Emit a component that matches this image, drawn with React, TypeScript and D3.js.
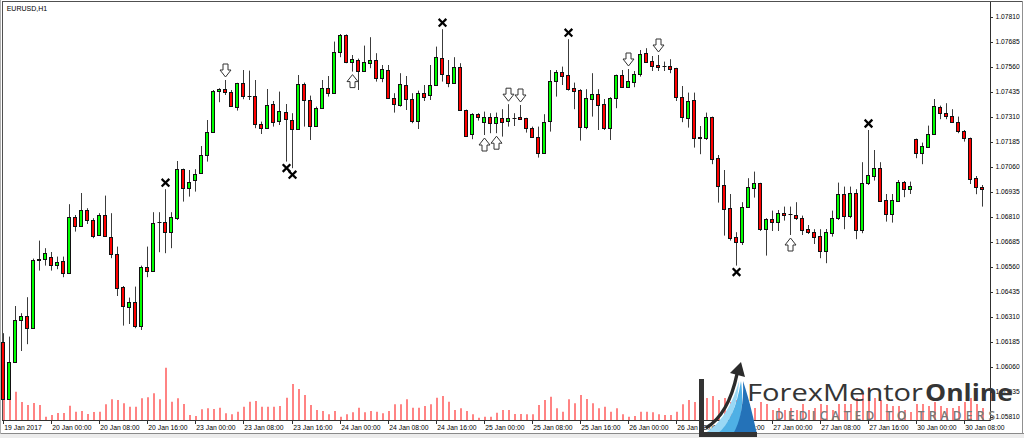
import React from 'react';
import * as d3 from 'd3';

const OPEN = [1.06187,1.05899,1.06087,1.06295,1.06315,1.06254,1.06594,1.06599,1.06612,1.06572,1.06589,1.06529,1.06809,1.06765,1.06844,1.06795,1.06719,1.06820,1.06712,1.06625,1.06459,1.06362,1.06384,1.06267,1.06562,1.06542,1.06785,1.06785,1.06737,1.06804,1.07049,1.06957,1.06995,1.07029,1.07119,1.07234,1.07440,1.07450,1.07434,1.07362,1.07482,1.07417,1.07417,1.07274,1.07254,1.07374,1.07290,1.07334,1.07295,1.07250,1.07474,1.07395,1.07265,1.07357,1.07454,1.07432,1.07637,1.07720,1.07584,1.07595,1.07540,1.07582,1.07595,1.07507,1.07545,1.07404,1.07370,1.07470,1.07399,1.07292,1.07429,1.07420,1.07470,1.07604,1.07520,1.07482,1.07562,1.07345,1.07224,1.07325,1.07284,1.07309,1.07282,1.07304,1.07292,1.07307,1.07312,1.07304,1.07257,1.07209,1.07129,1.07292,1.07492,1.07537,1.07520,1.07454,1.07445,1.07259,1.07400,1.07424,1.07374,1.07254,1.07404,1.07520,1.07459,1.07487,1.07524,1.07629,1.07590,1.07570,1.07567,1.07567,1.07554,1.07412,1.07304,1.07395,1.07212,1.07204,1.07309,1.07104,1.06970,1.06857,1.06709,1.06687,1.06862,1.06954,1.06979,1.06749,1.06799,1.06787,1.06829,1.06825,1.06820,1.06804,1.06749,1.06737,1.06715,1.06642,1.06732,1.06804,1.06924,1.06815,1.06932,1.06745,1.06979,1.07017,1.07057,1.06895,1.06824,1.06892,1.06987,1.06949,1.07200,1.07129,1.07162,1.07224,1.07362,1.07329,1.07315,1.07287,1.07240,1.07204,1.07004,1.06962];
const HIGH = [1.06229,1.06212,1.06365,1.06329,1.06409,1.06602,1.06692,1.06654,1.06635,1.06612,1.06612,1.06874,1.06820,1.06930,1.06854,1.06804,1.06829,1.06917,1.06829,1.06662,1.06465,1.06407,1.06462,1.06567,1.06662,1.06834,1.06834,1.06949,1.06834,1.07090,1.07052,1.07045,1.07049,1.07165,1.07295,1.07445,1.07454,1.07495,1.07445,1.07481,1.07545,1.07542,1.07495,1.07287,1.07450,1.07390,1.07437,1.07375,1.07329,1.07520,1.07482,1.07417,1.07362,1.07495,1.07515,1.07687,1.07725,1.07723,1.07620,1.07602,1.07667,1.07709,1.07629,1.07570,1.07570,1.07429,1.07529,1.07515,1.07429,1.07442,1.07470,1.07570,1.07662,1.07749,1.07595,1.07609,1.07579,1.07347,1.07329,1.07329,1.07337,1.07329,1.07332,1.07349,1.07374,1.07329,1.07370,1.07306,1.07262,1.07262,1.07324,1.07545,1.07545,1.07562,1.07699,1.07482,1.07449,1.07449,1.07529,1.07449,1.07400,1.07409,1.07522,1.07545,1.07550,1.07540,1.07645,1.07654,1.07615,1.07620,1.07587,1.07599,1.07556,1.07465,1.07432,1.07432,1.07265,1.07332,1.07312,1.07120,1.07045,1.06925,1.06734,1.06884,1.07004,1.07037,1.06981,1.06804,1.06842,1.06845,1.06862,1.06862,1.06884,1.06817,1.06770,1.06749,1.06749,1.06750,1.06842,1.06982,1.06962,1.06962,1.06949,1.07084,1.07245,1.07145,1.07084,1.06925,1.06925,1.06995,1.06990,1.06987,1.07202,1.07182,1.07267,1.07400,1.07367,1.07379,1.07349,1.07312,1.07245,1.07207,1.07015,1.06970];
const LOW = [1.05895,1.05895,1.06085,1.06140,1.06174,1.06250,1.06542,1.06567,1.06542,1.06549,1.06509,1.06525,1.06737,1.06762,1.06775,1.06704,1.06716,1.06713,1.06604,1.06415,1.06267,1.06275,1.06254,1.06245,1.06509,1.06540,1.06634,1.06629,1.06654,1.06795,1.06887,1.06912,1.06937,1.07026,1.07087,1.07230,1.07384,1.07420,1.07362,1.07342,1.07399,1.07395,1.07254,1.07225,1.07252,1.07262,1.07270,1.07087,1.07054,1.07248,1.07262,1.07195,1.07262,1.07354,1.07412,1.07429,1.07609,1.07579,1.07537,1.07445,1.07537,1.07554,1.07487,1.07484,1.07404,1.07332,1.07362,1.07345,1.07279,1.07250,1.07390,1.07395,1.07468,1.07487,1.07459,1.07479,1.07343,1.07212,1.07199,1.07292,1.07220,1.07229,1.07229,1.07212,1.07262,1.07265,1.07295,1.07232,1.07206,1.07107,1.07125,1.07237,1.07412,1.07470,1.07442,1.07349,1.07192,1.07249,1.07312,1.07245,1.07245,1.07195,1.07354,1.07459,1.07456,1.07459,1.07512,1.07582,1.07540,1.07540,1.07540,1.07529,1.07390,1.07284,1.07257,1.07157,1.07124,1.07195,1.07074,1.06882,1.06717,1.06692,1.06567,1.06670,1.06860,1.06907,1.06740,1.06617,1.06740,1.06740,1.06792,1.06720,1.06795,1.06720,1.06725,1.06675,1.06604,1.06579,1.06712,1.06795,1.06749,1.06804,1.06699,1.06729,1.06970,1.06992,1.06887,1.06787,1.06782,1.06890,1.06909,1.06925,1.07104,1.07074,1.07160,1.07222,1.07299,1.07299,1.07284,1.07229,1.07187,1.06975,1.06924,1.06862];
const CLOSE = [1.05899,1.06087,1.06295,1.06315,1.06257,1.06594,1.06599,1.06629,1.06569,1.06585,1.06529,1.06809,1.06765,1.06844,1.06795,1.06715,1.06822,1.06715,1.06625,1.06457,1.06367,1.06384,1.06267,1.06562,1.06542,1.06782,1.06785,1.06737,1.06809,1.07049,1.06957,1.06984,1.07025,1.07119,1.07234,1.07440,1.07450,1.07437,1.07367,1.07479,1.07417,1.07417,1.07274,1.07254,1.07370,1.07287,1.07342,1.07299,1.07250,1.07474,1.07395,1.07265,1.07357,1.07454,1.07429,1.07634,1.07720,1.07584,1.07599,1.07540,1.07584,1.07595,1.07507,1.07549,1.07407,1.07374,1.07474,1.07399,1.07292,1.07429,1.07412,1.07470,1.07612,1.07524,1.07482,1.07562,1.07345,1.07215,1.07325,1.07309,1.07309,1.07279,1.07309,1.07287,1.07304,1.07307,1.07300,1.07254,1.07209,1.07129,1.07287,1.07492,1.07537,1.07517,1.07450,1.07440,1.07262,1.07407,1.07425,1.07370,1.07254,1.07404,1.07520,1.07462,1.07490,1.07524,1.07624,1.07587,1.07567,1.07562,1.07567,1.07550,1.07412,1.07309,1.07390,1.07207,1.07204,1.07312,1.07099,1.06965,1.06850,1.06707,1.06687,1.06862,1.06959,1.06979,1.06749,1.06799,1.06787,1.06829,1.06820,1.06825,1.06804,1.06745,1.06737,1.06712,1.06642,1.06734,1.06804,1.06924,1.06817,1.06932,1.06745,1.06979,1.07020,1.07057,1.06892,1.06824,1.06895,1.06987,1.06949,1.06965,1.07129,1.07165,1.07225,1.07365,1.07329,1.07315,1.07287,1.07240,1.07204,1.06999,1.06959,1.06949];
const VOLUME = [2000,3700,2830,1800,1500,1700,1500,330,500,700,700,1430,830,900,600,800,830,1570,2070,2000,1670,1330,1330,2170,2270,2670,2070,5230,1830,2170,1600,500,400,1070,1170,1100,1230,670,570,830,1330,1830,1900,1330,1330,1330,1400,2230,3600,3100,2500,1500,1000,900,570,900,330,570,770,1230,770,900,830,670,900,1570,1570,2070,1230,1230,1400,1570,2230,2400,1830,1000,1170,900,570,230,330,330,730,1000,1000,600,600,570,570,1500,2000,2330,1170,830,2070,1670,2500,2100,1670,1170,1330,830,1170,570,330,400,830,830,770,570,500,500,830,1570,2000,1800,1600,2200,2400,2000,2200,1800,2000,1600,1600,1200,1800,1600,1000,1200,1000,1200,1000,1600,1000,1200,1600,1500,1000,1600,1600,1600,2200,2700,3300,2200,2000,1600,1400,1400,1000,800,1600,1600,1400,1800,1400,1200,1200,1400,1800,2200,1600,1200];

const PRICE_TICKS = [1.05810,1.05935,1.06060,1.06185,1.06310,1.06435,1.06560,1.06685,1.06810,1.06935,1.07060,1.07185,1.07310,1.07435,1.07560,1.07685,1.07810];
const TIME_TICK_BARS = [0,8,16,24,32,40,48,56,64,72,80,88,96,104,112,120,128,136,144,152,160];
const TIME_TICK_LABELS = ['19 Jan 2017','20 Jan 00:00','20 Jan 08:00','20 Jan 16:00','23 Jan 00:00','23 Jan 08:00','23 Jan 16:00','24 Jan 00:00','24 Jan 08:00','24 Jan 16:00','25 Jan 00:00','25 Jan 08:00','25 Jan 16:00','26 Jan 00:00','26 Jan 08:00','26 Jan 16:00','27 Jan 00:00','27 Jan 08:00','27 Jan 16:00','30 Jan 00:00','30 Jan 08:00'];

const CROSS_ABOVE = [27, 73, 94, 144];
const CROSS_BELOW = [47, 48, 122];
const ARROW_DOWN = [37, 84, 86, 104, 109];
const ARROW_UP = [58, 80, 82, 131];

const W = 1024;
const H = 438;
const FONT = "'Liberation Sans', Arial, sans-serif";
const LOGO_FONT = "'Open Sans', Lato, sans-serif";

export default function App() {
  const x = d3.scaleLinear().domain([0, OPEN.length - 1]).range([3.8, 982.5]);
  const y = d3.scaleLinear().domain([1.0581, 1.0781]).range([417, 17]);
  const yv = d3.scaleLinear().domain([0, 6000]).range([420, 360]);
  const cxOf = (i: number) => Math.floor(x(i)) + 0.5;
  const snap = (v: number) => Math.round(v) + 0.5;

  const candles = OPEN.map((o, i) => {
    const c = CLOSE[i];
    const cx = cxOf(i);
    const top = snap(y(Math.max(o, c)));
    const bot = snap(y(Math.min(o, c)));
    const fill = c > o ? '#00ff00' : c < o ? '#ff0000' : 'none';
    return (
      <g key={'c' + i}>
        <line x1={cx} x2={cx} y1={y(HIGH[i])} y2={y(LOW[i])} stroke="#3c3c3c" strokeWidth={1} />
        {bot - top < 1 ? (
          <line x1={cx - 2} x2={cx + 2} y1={top} y2={top} stroke="#111" strokeWidth={1} />
        ) : (
          <rect x={cx - 2} y={top} width={3} height={bot - top} fill={fill} stroke="#111" strokeWidth={1} />
        )}
      </g>
    );
  });

  const vols = VOLUME.map((v, i) => (
    <line key={'v' + i} x1={cxOf(i) + 0.5} x2={cxOf(i) + 0.5} y1={420} y2={yv(v)} stroke="#ff6464" strokeWidth={1.6} />
  ));

  const cross = (cx: number, cy: number, k: string) => (
    <g key={k} stroke="#000" strokeWidth={2.3} strokeLinecap="square">
      <line x1={cx - 3} y1={cy - 3} x2={cx + 3} y2={cy + 3} />
      <line x1={cx - 3} y1={cy + 3} x2={cx + 3} y2={cy - 3} />
    </g>
  );
  const arrowDown = (cx: number, y0: number, k: string) => (
    <path key={k} d={`M${cx - 2.5},${y0} H${cx + 2.5} V${y0 + 6} H${cx + 5.5} L${cx},${y0 + 13} L${cx - 5.5},${y0 + 6} H${cx - 2.5} Z`} fill="#fff" stroke="#333" strokeWidth={1} />
  );
  const arrowUp = (cx: number, y0: number, k: string) => (
    <path key={k} d={`M${cx - 2.5},${y0 + 13} H${cx + 2.5} V${y0 + 7} H${cx + 5.5} L${cx},${y0} L${cx - 5.5},${y0 + 7} H${cx - 2.5} Z`} fill="#fff" stroke="#333" strokeWidth={1} />
  );

  return (
    <svg width={W} height={H} style={{ position: 'absolute', left: 0, top: 0, display: 'block' }} xmlns="http://www.w3.org/2000/svg">
      <rect x={0} y={0} width={W} height={H} fill="#fff" />
      <rect x={0} y={434} width={W} height={4} fill="#ececec" />
      <line x1={0} x2={W} y1={433.5} y2={433.5} stroke="#8a8a8a" />
      <line x1={0.5} x2={0.5} y1={0} y2={434} stroke="#b0b0b0" />
      <line x1={2.5} x2={2.5} y1={2} y2={420} stroke="#505050" />
      <line x1={2} x2={1022} y1={1.5} y2={1.5} stroke="#505050" />
      <line x1={1022.5} x2={1022.5} y1={1} y2={434} stroke="#909090" />

      <g>{vols}</g>
      <g>{candles}</g>

      {CROSS_ABOVE.map((i) => cross(cxOf(i), y(HIGH[i]) - 6.5, 'ca' + i))}
      {CROSS_BELOW.map((i) => cross(cxOf(i), y(LOW[i]) + 6.5, 'cb' + i))}
      {ARROW_DOWN.map((i) => arrowDown(cxOf(i), y(HIGH[i]) - 16, 'ad' + i))}
      {ARROW_UP.map((i) => arrowUp(cxOf(i), y(LOW[i]) + 3, 'au' + i))}

      <line x1={990.5} x2={990.5} y1={2} y2={420} stroke="#303030" />
      <line x1={2} x2={991} y1={420.5} y2={420.5} stroke="#303030" />

      {PRICE_TICKS.map((p) => (
        <g key={'p' + p}>
          <line x1={990} x2={993} y1={snap(y(p))} y2={snap(y(p))} stroke="#303030" />
          <text x={995.5} y={y(p) + 2.4} fontFamily={FONT} fontSize={6.7} fill="#000">{p.toFixed(5)}</text>
        </g>
      ))}

      {TIME_TICK_BARS.map((b, k) => (
        <g key={'t' + b}>
          <line x1={cxOf(b)} x2={cxOf(b)} y1={420} y2={424} stroke="#303030" />
          <text x={cxOf(b) + 0.8} y={429.5} fontFamily={FONT} fontSize={6.8} fill="#000">{TIME_TICK_LABELS[k]}</text>
        </g>
      ))}

      <text x={6.7} y={10.5} fontFamily={FONT} fontSize={7} fill="#000">EURUSD,H1</text>

      {/* watermark logo */}
      <g>
        <path d="M703,434 C716,428 731,410 739,381 C738,405 729,424 719,434 Z" fill="#9ad8f5" />
        <path d="M717,434 C729,425 737,406 741,381 C744,404 741,424 734,434 Z" fill="#4fb0e5" />
        <path d="M733,434 C740,423 744,404 743,381 C750,402 754,421 757,434 Z" fill="#2472b8" />
        <path d="M706,428 C719,420 731,403 737,374" fill="none" stroke="#2b2b2b" strokeWidth={3.4} />
        <polygon points="741,362 730,373 745,377" fill="#2b2b2b" />
        <rect x={699} y={379} width={5} height={58} fill="#333" />
        <rect x={699} y={432} width={58} height={5} fill="#333" />
        <text x={747} y={401} fontFamily={LOGO_FONT} fontWeight={500} fontSize={23} fill="#353535" textLength={176} lengthAdjust="spacingAndGlyphs">ForexMentor</text>
        <text x={925} y={401} fontFamily={LOGO_FONT} fontWeight={700} fontSize={23} fill="#353535" textLength={88} lengthAdjust="spacingAndGlyphs">Online</text>
        <text x={775} y={420} fontFamily={LOGO_FONT} fontWeight={600} fontSize={12} fill="#777" textLength={220} lengthAdjust="spacing">DEDICATED TO TRADERS</text>
      </g>
    </svg>
  );
}
